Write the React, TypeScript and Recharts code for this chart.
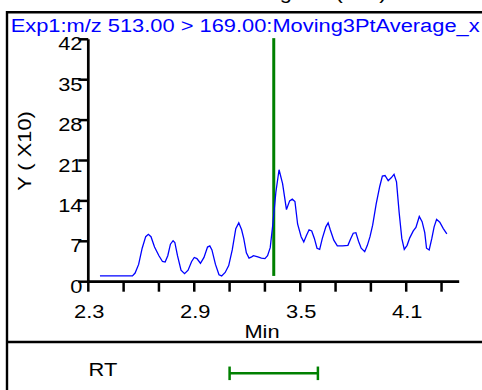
import React from 'react';
import { LineChart, Line, XAxis, YAxis, ReferenceLine } from 'recharts';

// ---- data ----
const times = [
  2.366, 2.55, 2.565, 2.585, 2.605, 2.625, 2.64, 2.655, 2.675, 2.7, 2.72, 2.735, 2.75, 2.765, 2.78, 2.79,
  2.805, 2.825, 2.845, 2.865, 2.885, 2.9, 2.915, 2.935, 2.955, 2.975, 2.988, 3.0, 3.02, 3.04, 3.055,
  3.075, 3.095, 3.115, 3.135, 3.152, 3.168, 3.18, 3.195, 3.21, 3.225, 3.235, 3.26, 3.28, 3.3, 3.315,
  3.33, 3.345, 3.362, 3.38, 3.4, 3.422, 3.44, 3.455, 3.47, 3.485, 3.505, 3.52, 3.535, 3.55, 3.565,
  3.58, 3.595, 3.61, 3.625, 3.645, 3.658, 3.67, 3.69, 3.71, 3.74, 3.77, 3.785, 3.8, 3.815, 3.83,
  3.845, 3.865, 3.88, 3.895, 3.91, 3.93, 3.95, 3.965, 3.98, 3.998, 4.015, 4.031, 4.045, 4.06, 4.075,
  4.089, 4.105, 4.12, 4.14, 4.155, 4.174, 4.19, 4.205, 4.215, 4.23, 4.245, 4.258, 4.272, 4.29, 4.31, 4.33,
];
const intensities = [
  1.0, 1.0, 1.5, 3.0, 5.8, 7.8, 8.2, 7.8, 6.0, 4.5, 3.5, 3.4, 4.5, 6.5, 7.1, 6.8,
  4.5, 2.0, 1.4, 2.0, 3.5, 4.2, 4.0, 3.2, 4.2, 6.0, 6.2, 5.5, 3.0, 1.2, 1.0,
  1.6, 2.8, 5.5, 9.2, 10.2, 9.0, 7.5, 5.0, 4.1, 4.3, 4.5, 4.3, 4.1, 4.0, 4.5,
  5.9, 10.0, 15.5, 19.4, 17.0, 12.5, 14.0, 14.3, 13.9, 10.0, 7.8, 6.9, 8.0, 9.0, 8.8,
  7.5, 5.8, 5.6, 7.5, 9.5, 10.2, 9.0, 7.2, 6.2, 6.2, 6.3, 7.4, 8.4, 8.5, 7.0,
  5.8, 5.2, 6.3, 7.8, 9.8, 13.5, 16.5, 18.3, 18.4, 17.5, 18.0, 18.6, 17.3, 12.0, 7.5,
  5.6, 6.3, 7.6, 8.8, 9.4, 11.3, 10.4, 8.5, 5.8, 5.5, 7.5, 9.5, 10.8, 10.3, 9.2, 8.3,
];
const xTicks = [2.3, 2.5, 2.7, 2.9, 3.1, 3.3, 3.5, 3.7, 3.9, 4.1, 4.3];
const xTickLabels = ['2.3', '', '', '2.9', '', '', '3.5', '', '', '4.1', ''];
const yTicks = [0, 7, 14, 21, 28, 35, 42];
const xDomain = [2.3, 4.4];
const yDomain = [0, 42];
const retentionTime = 3.35;
const rtWindow = [3.1, 3.6];

const titleText = 'Exp1:m/z 513.00 > 169.00:Moving3PtAverage_x';
const topText = 'Extracted Ion Chromatogram (XIC)';
const yLabel = 'Y ( X10)';
const xLabel = 'Min';
const rtLabel = 'RT';

const data = times.map((t, i) => ({ t, v: intensities[i] }));

const FONT = '"Liberation Sans", Arial, sans-serif';
const SX = 1.15;
const FS = 19;

function SText({ x, y, anchor = 'start', fill = '#000', rotate = 0, children }: any) {
  const rot = rotate ? ` rotate(${rotate})` : '';
  return (
    <text
      transform={`translate(${x},${y})${rot} scale(${SX},1)`}
      textAnchor={anchor}
      fontSize={FS}
      fontFamily={FONT}
      fill={fill}
    >
      {children}
    </text>
  );
}

function YTick(props: any) {
  const { x, y, payload } = props;
  return <SText x={x + 6.2} y={y + 11} anchor="end">{String(payload.value)}</SText>;
}

function XTick(props: any) {
  const { x, y, payload } = props;
  const i = xTicks.indexOf(payload.value);
  const label = i >= 0 ? xTickLabels[i] : '';
  if (!label) return <g />;
  return <SText x={x + 1} y={y + 24.3} anchor="middle">{label}</SText>;
}

const W = 482;
const H = 390;

export default function App() {
  return (
    <div style={{ position: 'absolute', left: 0, top: 0, width: W, height: H, background: '#fff', overflow: 'hidden' }}>
      <LineChart
        width={W}
        height={H}
        data={data}
        margin={{ top: 39.3, right: 22.8, bottom: 78.3, left: 0 }}
      >
        <XAxis
          dataKey="t"
          type="number"
          domain={xDomain}
          ticks={xTicks}
          allowDataOverflow
          height={30}
          tickSize={10}
          axisLine={{ stroke: '#000', strokeWidth: 2.7 }}
          tickLine={{ stroke: '#000', strokeWidth: 2.5 }}
          tick={<XTick />}
          interval={0}
        />
        <YAxis
          type="number"
          domain={yDomain}
          ticks={yTicks}
          allowDataOverflow
          width={88.3}
          tickSize={10}
          axisLine={{ stroke: '#000', strokeWidth: 2.7 }}
          tickLine={{ stroke: '#000', strokeWidth: 2.5 }}
          tick={<YTick />}
          interval={0}
        />
        <ReferenceLine
          segment={[{ x: retentionTime, y: 1 }, { x: retentionTime, y: 42.2 }]}
          stroke="#008000"
          strokeWidth={3}
          ifOverflow="visible"
        />
        <ReferenceLine
          segment={[{ x: rtWindow[0], y: -15.87 }, { x: rtWindow[1], y: -15.87 }]}
          stroke="#008000"
          strokeWidth={2.5}
          ifOverflow="visible"
        />
        <ReferenceLine
          segment={[{ x: rtWindow[0], y: -14.7 }, { x: rtWindow[0], y: -17.05 }]}
          stroke="#008000"
          strokeWidth={2.5}
          ifOverflow="visible"
        />
        <ReferenceLine
          segment={[{ x: rtWindow[1], y: -14.7 }, { x: rtWindow[1], y: -17.05 }]}
          stroke="#008000"
          strokeWidth={2.5}
          ifOverflow="visible"
        />
        <Line
          type="linear"
          dataKey="v"
          stroke="#0000ff"
          strokeWidth={1.3}
          dot={false}
          activeDot={false}
          isAnimationActive={false}
        />
      </LineChart>
      <svg
        width={W}
        height={H}
        style={{ position: 'absolute', left: 0, top: 0, pointerEvents: 'none' }}
      >
        <line x1={7} y1={12.2} x2={W} y2={12.2} stroke="#000" strokeWidth={2.4} />
        <line x1={7} y1={11} x2={7} y2={H} stroke="#000" strokeWidth={2.4} />
        <line x1={7} y1={342} x2={W} y2={342} stroke="#000" strokeWidth={2.4} />
        <SText x={49} y={-1}>{topText}</SText>
        <SText x={10.7} y={32.3} fill="#0000ff">{titleText}</SText>
        <SText x={31} y={151} anchor="middle" rotate={-90}>{yLabel}</SText>
        <SText x={262} y={338} anchor="middle">{xLabel}</SText>
        <SText x={88.5} y={376}>{rtLabel}</SText>
      </svg>
    </div>
  );
}
